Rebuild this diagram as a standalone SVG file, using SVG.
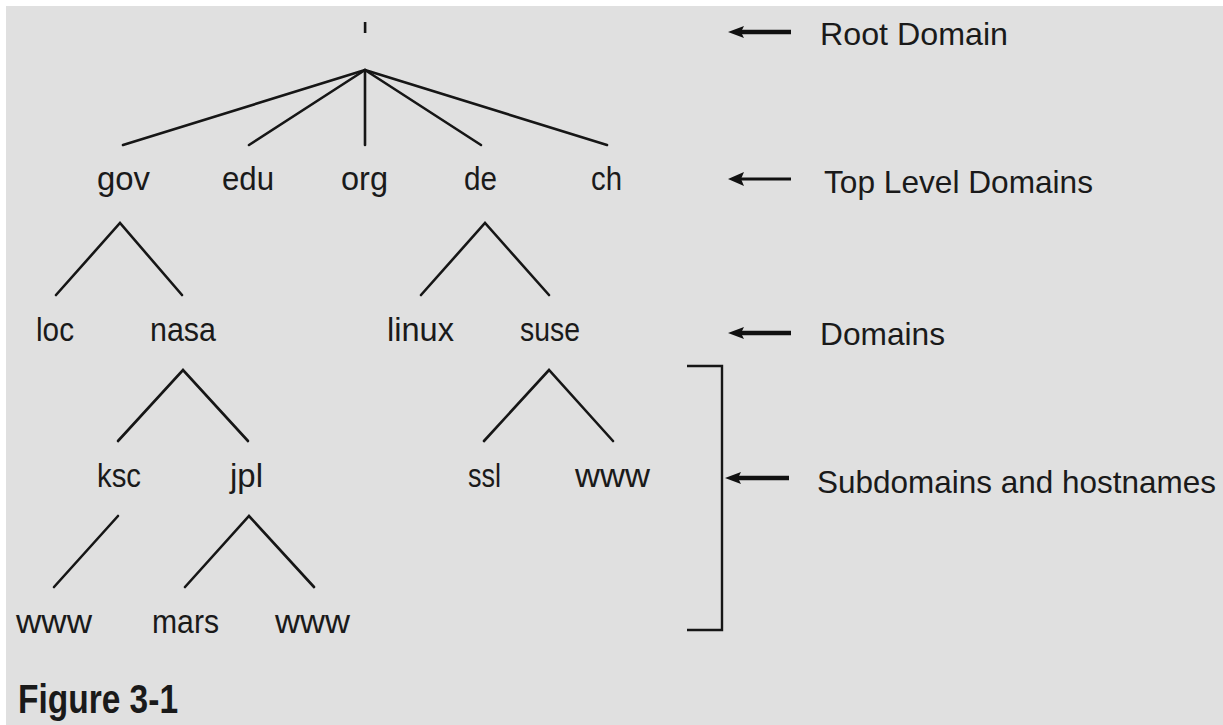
<svg xmlns="http://www.w3.org/2000/svg" width="1223" height="725" viewBox="0 0 1223 725">
  <style>
    .bg { fill: #e0e0e0; }
    .edge { stroke: #161616; stroke-width: 2.6; fill: none; stroke-linecap: round; }
    .lbl { font-family: "Liberation Sans", Arial, sans-serif; font-size: 34px; fill: #1a1a1a; }
    .note { font-family: "Liberation Sans", Arial, sans-serif; font-size: 32px; fill: #1a1a1a; }
    .cap { font-family: "Liberation Sans", Arial, sans-serif; font-size: 40px; font-weight: bold; fill: #1a1a1a; }
    .shaft { stroke: #111; fill: none; }
    .head { fill: #111; }
    .bracket { stroke: #161616; stroke-width: 2.4; fill: none; }
  </style>

  <rect x="0" y="0" width="1223" height="725" fill="#ffffff"/>
  <rect class="bg" x="6" y="6" width="1217" height="719"/>

  <!-- tree edges -->
  <g id="connectors">
    <line class="edge" x1="365" y1="70" x2="123" y2="145"/>
    <line class="edge" x1="365" y1="70" x2="249" y2="145"/>
    <line class="edge" x1="365" y1="70" x2="365" y2="145"/>
    <line class="edge" x1="365" y1="70" x2="481" y2="145"/>
    <line class="edge" x1="365" y1="70" x2="607" y2="145"/>

    <polyline class="edge" points="56,295 120,223 182,295"/>
    <polyline class="edge" points="421,295 485,223 549,295"/>
    <polyline class="edge" points="118,441 183,370 248,441"/>
    <polyline class="edge" points="484,441 549,370 613,441"/>
    <line class="edge" x1="118" y1="516" x2="54" y2="587"/>
    <polyline class="edge" points="185,587 249,516 314,587"/>
  </g>

  <!-- root -->
  <g id="node-root">
    <rect x="363.8" y="22" width="2.6" height="11" fill="#161616"/>
  </g>

  <!-- top level domains -->
  <g id="node-gov"><text class="lbl" x="97" y="190" textLength="53" lengthAdjust="spacingAndGlyphs">gov</text></g>
  <g id="node-edu"><text class="lbl" x="222" y="190" textLength="52" lengthAdjust="spacingAndGlyphs">edu</text></g>
  <g id="node-org"><text class="lbl" x="341" y="190" textLength="47" lengthAdjust="spacingAndGlyphs">org</text></g>
  <g id="node-de"><text class="lbl" x="464" y="190" textLength="33" lengthAdjust="spacingAndGlyphs">de</text></g>
  <g id="node-ch"><text class="lbl" x="591" y="190" textLength="31" lengthAdjust="spacingAndGlyphs">ch</text></g>

  <!-- domains -->
  <g id="node-loc"><text class="lbl" x="36" y="341" textLength="38" lengthAdjust="spacingAndGlyphs">loc</text></g>
  <g id="node-nasa"><text class="lbl" x="150" y="341" textLength="66" lengthAdjust="spacingAndGlyphs">nasa</text></g>
  <g id="node-linux"><text class="lbl" x="387" y="341" textLength="67" lengthAdjust="spacingAndGlyphs">linux</text></g>
  <g id="node-suse"><text class="lbl" x="520" y="341" textLength="60" lengthAdjust="spacingAndGlyphs">suse</text></g>

  <!-- subdomains -->
  <g id="node-ksc"><text class="lbl" x="97" y="487" textLength="44" lengthAdjust="spacingAndGlyphs">ksc</text></g>
  <g id="node-jpl"><text class="lbl" x="230" y="487" textLength="33" lengthAdjust="spacingAndGlyphs">jpl</text></g>
  <g id="node-ssl"><text class="lbl" x="468" y="487" textLength="33" lengthAdjust="spacingAndGlyphs">ssl</text></g>
  <g id="node-suse-www"><text class="lbl" x="575" y="487" textLength="75" lengthAdjust="spacingAndGlyphs">www</text></g>

  <!-- hostnames -->
  <g id="node-ksc-www"><text class="lbl" x="16" y="633" textLength="76" lengthAdjust="spacingAndGlyphs">www</text></g>
  <g id="node-mars"><text class="lbl" x="152" y="633" textLength="67" lengthAdjust="spacingAndGlyphs">mars</text></g>
  <g id="node-jpl-www"><text class="lbl" x="275" y="633" textLength="75" lengthAdjust="spacingAndGlyphs">www</text></g>

  <!-- level annotations -->
  <g id="note-root">
    <line class="shaft" stroke-width="4.5" x1="740" y1="32" x2="791" y2="32"/>
    <path class="head" d="M728,32 L744,26 L741,32 L744,38 Z"/>
    <text class="note" x="820" y="45" textLength="188" lengthAdjust="spacingAndGlyphs">Root Domain</text>
  </g>
  <g id="note-tld">
    <line class="shaft" stroke-width="3" x1="740" y1="179" x2="791" y2="179"/>
    <path class="head" d="M728,179 L744,172 L741,179 L744,186 Z"/>
    <text class="note" x="824" y="193" textLength="269" lengthAdjust="spacingAndGlyphs">Top Level Domains</text>
  </g>
  <g id="note-domains">
    <line class="shaft" stroke-width="4.5" x1="740" y1="333" x2="791" y2="333"/>
    <path class="head" d="M728,333 L744,327 L741,333 L744,339 Z"/>
    <text class="note" x="820" y="345" textLength="125" lengthAdjust="spacingAndGlyphs">Domains</text>
  </g>
  <g id="note-subdomains">
    <path class="bracket" d="M687,366 H722 V630 H687"/>
    <line class="shaft" stroke-width="4.5" x1="737" y1="478" x2="789" y2="478"/>
    <path class="head" d="M725,478 L741,472 L738,478 L741,484 Z"/>
    <text class="note" x="817" y="493" textLength="399" lengthAdjust="spacingAndGlyphs">Subdomains and hostnames</text>
  </g>

  <g id="caption">
    <text class="cap" x="18" y="713" textLength="160" lengthAdjust="spacingAndGlyphs">Figure 3-1</text>
  </g>
</svg>
